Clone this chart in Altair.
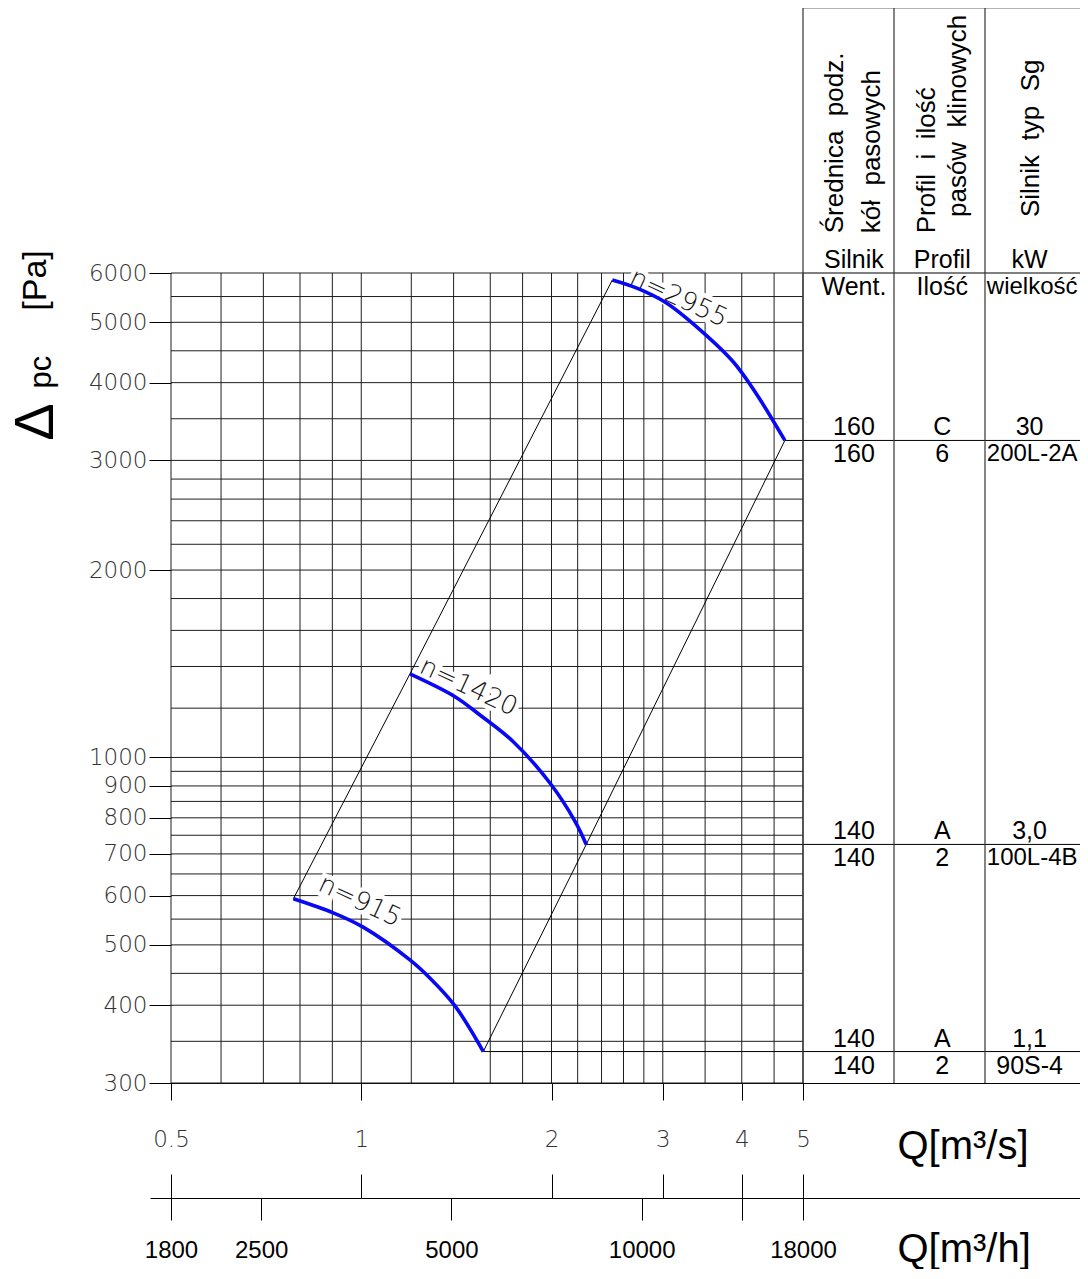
import altair as alt
import pandas as pd

# ---------------- values ----------------
Q_AXIS_TICKS = [0.5, 1, 2, 3, 4, 5]                       # m3/s
Q_GRID = [0.5, 0.6, 0.7, 0.8, 0.9, 1, 1.2, 1.4, 1.6, 1.8, 2, 2.2, 2.4, 2.6, 2.8,
          3, 3.5, 4, 4.5, 5]
QH_AXIS_TICKS = [1800, 2500, 5000, 10000, 14400, 18000]   # m3/h
P_AXIS_TICKS = [300, 400, 500, 600, 700, 800, 900, 1000, 2000, 3000, 4000, 5000, 6000]
P_GRID = [300, 350, 400, 450, 500, 550, 600, 650, 700, 750, 800, 850, 900, 950, 1000,
          1200, 1400, 1600, 1800, 2000, 2200, 2400, 2600, 2800, 3000, 3500, 4000,
          4500, 5000, 5500, 6000]

SPEEDS = ["n=915", "n=1420", "n=2955"]
N915_Q = [0.781, 0.903, 1.007, 1.194, 1.285, 1.407, 1.56]
N915_P = [593, 563, 534, 473, 442, 399, 337]
N1420_Q = [1.194, 1.407, 1.541, 1.740, 1.99, 2.18, 2.27]
N1420_P = [1362, 1252, 1170, 1060, 909, 789, 725]
N2955_Q = [2.496, 2.73, 3.04, 3.44, 3.88, 4.22, 4.68]
N2955_P = [5846, 5672, 5370, 4858, 4317, 3836, 3230]

LEFT_Q = [N915_Q[0], N1420_Q[0], N2955_Q[0]]
LEFT_P = [N915_P[0], N1420_P[0], N2955_P[0]]
RIGHT_Q = [N915_Q[-1], N1420_Q[-1], N2955_Q[-1]]
RIGHT_P = [N915_P[-1], N1420_P[-1], N2955_P[-1]]

# speed labels (annotation anchors, in chart units)
LABEL_Q = [0.995, 1.479, 3.18]
LABEL_P = [588, 1298, 5470]

# right-hand table
TABLE_TOP_P = 16000
ROW_LINE_P = [6000, N2955_P[-1], N1420_P[-1], N915_P[-1]]
ABOVE_TEXT = [["Silnik", "Profil", "kW"], ["160", "C", "30"],
              ["140", "A", "3,0"], ["140", "A", "1,1"]]
BELOW_TEXT = [["Went.", "Ilość", "wielkość"], ["160", "6", "200L-2A"],
              ["140", "2", "100L-4B"], ["140", "2", "90S-4"]]
HEADER_TEXT = ["Średnica\u00a0 podz.", "kół\u00a0 pasowych", "Profil\u00a0 i\u00a0 ilość",
               "pasów\u00a0 klinowych", "Silnik\u00a0 typ\u00a0 Sg"]
HEADER_TX = [0.35, 0.76, 1.36, 1.70, 2.505]
HEADER_P = [6950, 6950, 6950, 7380, 7380]
COL_CENTER = [0.56, 1.53, 2.49]
COL3_LEFT = 2.02

# y-title pieces (annotation anchors)
DELTA_Q, DELTA_P = 0.3057, 3458
PC_Q, PC_P = 0.3124, 4159

# ---------------- layout ----------------
PLOT_W, PLOT_H = 632, 810
EXT_L, EXT_R = -21, 917          # flow scales extended so axis lines run under the table
Q_MIN, Q_MAX = 0.5, 5
Q_LO = Q_MIN * 10 ** (EXT_L / PLOT_W)
Q_HI = Q_MIN * 10 ** (EXT_R / PLOT_W)
COL_W = 91

CAD = "DejaVu Sans"
ARIAL = "Liberation Sans"
GRID_C = "#1e1e1e"

QS = alt.Scale(type="log", domain=[Q_LO, Q_HI], range=[EXT_L, EXT_R], nice=False)
QHS = alt.Scale(type="log", domain=[Q_LO * 3600, Q_HI * 3600], range=[EXT_L, EXT_R], nice=False)
PS = alt.Scale(type="log", domain=[300, 6000], nice=False)
TS = alt.Scale(type="linear", domain=[0, 3], range=[PLOT_W, PLOT_W + 3 * COL_W],
               nice=False, zero=False)

# ---------------- axes ----------------
Y_AXIS = alt.Axis(orient="left", values=P_AXIS_TICKS, format="d", tickSize=22,
                  tickColor="black", domain=False, grid=False, labelFont=CAD,
                  labelFontSize=23, labelFontWeight=200, labelColor="#333",
                  labelPadding=2, labelOverlap=False,
                  title="[Pa]", titleFont=ARIAL, titleFontSize=34, titleFontWeight="normal",
                  titleColor="black", titleAngle=270, titleX=-136, titleY=7,
                  titleAlign="center", titleBaseline="middle")

AXIS_A = alt.Axis(orient="bottom", offset=0, values=Q_AXIS_TICKS, format="~g",
                  tickSize=17, tickColor="black", domainColor="black", grid=False,
                  labelFont=CAD, labelFontSize=23, labelFontWeight=200, labelColor="#333",
                  labelPadding=28, labelFlush=False, labelOverlap=False,
                  title="Q[m³/s]", titleFont=ARIAL, titleFontSize=40,
                  titleFontWeight="normal", titleColor="black", titleX=726, titleY=75,
                  titleAlign="left", titleBaseline="alphabetic", titleAngle=0)

AXIS_B = alt.Axis(orient="bottom", offset=91, values=Q_AXIS_TICKS, tickSize=24,
                  tickColor="black", labels=False, domain=False, grid=False, title=None)

AXIS_C = alt.Axis(orient="bottom", offset=115, values=QH_AXIS_TICKS, tickSize=22,
                  tickColor="black", domainColor="black", grid=False,
                  labelExpr="datum.value == 14400 ? '' : format(datum.value, 'd')",
                  labelFont=ARIAL, labelFontSize=24, labelColor="black", labelPadding=18,
                  labelFlush=False, labelOverlap=False,
                  title="Q[m³/h]", titleFont=ARIAL, titleFontSize=40,
                  titleFontWeight="normal", titleColor="black", titleX=726, titleY=63,
                  titleAlign="left", titleBaseline="alphabetic", titleAngle=0)

# ---------------- data frames ----------------
hgrid_df = pd.DataFrame({"P": P_GRID, "q0": Q_MIN, "q1": Q_MAX})
vgrid_df = pd.DataFrame({"Q": Q_GRID, "p0": 300, "p1": 6000})

curve_rows = []
for name, qs, ps in zip(SPEEDS, [N915_Q, N1420_Q, N2955_Q], [N915_P, N1420_P, N2955_P]):
    for i, (q, p) in enumerate(zip(qs, ps)):
        curve_rows.append({"n": name, "i": i, "Q": q, "P": p})
curve_df = pd.DataFrame(curve_rows)

bound_rows = []
for side, qs, ps in [("left", LEFT_Q, LEFT_P), ("right", RIGHT_Q, RIGHT_P)]:
    for i, (q, p) in enumerate(zip(qs, ps)):
        bound_rows.append({"side": side, "i": i, "Q": q, "P": p})
bound_df = pd.DataFrame(bound_rows)

ext_df = pd.DataFrame({"P": RIGHT_P, "q0": RIGHT_Q, "q1": Q_MAX})
label_df = pd.DataFrame({"text": SPEEDS, "Q": LABEL_Q, "P": LABEL_P})
qh_df = pd.DataFrame({"qh": QH_AXIS_TICKS})

tline_df = pd.DataFrame({"P": ROW_LINE_P + [TABLE_TOP_P], "t0": 0, "t1": 3.4})
tvert_df = pd.DataFrame({"tx": [0, 1, 2], "p0": 300, "p1": TABLE_TOP_P})

cells = []
for r, pline in enumerate(ROW_LINE_P):
    for pos, rows in [("above", ABOVE_TEXT), ("below", BELOW_TEXT)]:
        for c, txt in enumerate(rows[r]):
            if c == 2 and len(txt) > 5:
                tx, al = COL3_LEFT, "left"
            else:
                tx, al = COL_CENTER[c], "center"
            cells.append({"text": txt, "P": pline, "tx": tx, "side": pos, "halign": al})
cell_df = pd.DataFrame(cells)
header_df = pd.DataFrame({"text": HEADER_TEXT, "tx": HEADER_TX, "P": HEADER_P})
title_df = pd.DataFrame({"text": ["Δ", "pc"], "Q": [DELTA_Q, PC_Q], "P": [DELTA_P, PC_P],
                         "size": [56, 31]})

# ---------------- layers ----------------
def qx(field, axis=None):
    return alt.X(field, scale=QS, axis=axis)

def py(field, axis=None):
    return alt.Y(field, scale=PS, axis=axis)

hgrid = alt.Chart(hgrid_df).mark_rule(color=GRID_C, strokeWidth=1).encode(
    x=qx("q0:Q"), x2="q1:Q", y=py("P:Q", Y_AXIS))

vgrid = alt.Chart(vgrid_df).mark_rule(color=GRID_C, strokeWidth=1).encode(
    x=qx("Q:Q", AXIS_A), y=py("p0:Q"), y2="p1:Q")

ext = alt.Chart(ext_df).mark_rule(color="black", strokeWidth=1).encode(
    x=qx("q0:Q"), x2="q1:Q", y=py("P:Q"))

bounds = alt.Chart(bound_df).mark_line(color="black", strokeWidth=1).encode(
    x=qx("Q:Q"), y=py("P:Q"), detail="side:N", order="i:Q")

label_halo = alt.Chart(label_df).mark_text(
    font=CAD, fontSize=26, fontWeight=200, angle=25, stroke="white", strokeWidth=9,
    color="white").encode(x=qx("Q:Q"), y=py("P:Q"), text="text:N")

labels = alt.Chart(label_df).mark_text(
    font=CAD, fontSize=26, fontWeight=200, angle=25, color="#111").encode(
    x=qx("Q:Q"), y=py("P:Q"), text="text:N")

curves = alt.Chart(curve_df).mark_line(
    color="#0808f4", strokeWidth=3.6, interpolate="catmull-rom").encode(
    x=qx("Q:Q", AXIS_B), y=py("P:Q"), detail="n:N", order="i:Q")

qh_axis = alt.Chart(qh_df).mark_point(opacity=0, size=1).encode(
    x=alt.X("qh:Q", scale=QHS, axis=AXIS_C))

ytitle = alt.Chart(title_df).mark_text(
    font=ARIAL, angle=270, align="center", baseline="middle", color="black").encode(
    x=qx("Q:Q"), y=py("P:Q"), text="text:N",
    size=alt.Size("size:Q", scale=None, legend=None))

tlines = alt.Chart(tline_df).mark_rule(color="black", strokeWidth=1).encode(
    x=alt.X("t0:Q", scale=TS, axis=None), x2="t1:Q", y=py("P:Q"))

tverts = alt.Chart(tvert_df).mark_rule(color="#333", strokeWidth=1.2).encode(
    x=alt.X("tx:Q", scale=TS, axis=None), y=py("p0:Q"), y2="p1:Q")

cell_layers = []
for pos, baseline, dy in [("above", "alphabetic", -5), ("below", "top", 2)]:
    for al in ["center", "left"]:
        sub = cell_df[(cell_df["side"] == pos) & (cell_df["halign"] == al)]
        if len(sub) == 0:
            continue
        fs = 24 if al == "left" else 25
        cell_layers.append(
            alt.Chart(sub).mark_text(font=ARIAL, fontSize=fs, color="black",
                                     align=al, baseline=baseline, dy=dy).encode(
                x=alt.X("tx:Q", scale=TS, axis=None), y=py("P:Q"), text="text:N"))

header = alt.Chart(header_df).mark_text(
    font=ARIAL, fontSize=26, color="black", angle=270, align="left",
    baseline="middle").encode(
    x=alt.X("tx:Q", scale=TS, axis=None), y=py("P:Q"), text="text:N")

chart = alt.layer(
    hgrid, vgrid, ext, bounds, label_halo, labels, curves, qh_axis, ytitle,
    tlines, tverts, header, *cell_layers
).resolve_scale(x="independent", y="independent").properties(
    width=PLOT_W, height=PLOT_H,
    padding={"left": 163, "top": 265, "right": 277, "bottom": 186},
    autosize=alt.AutoSizeParams(type="none"),
).configure_view(stroke=None)

chart.save("out.html", embed_options={"renderer": "svg", "actions": False})
